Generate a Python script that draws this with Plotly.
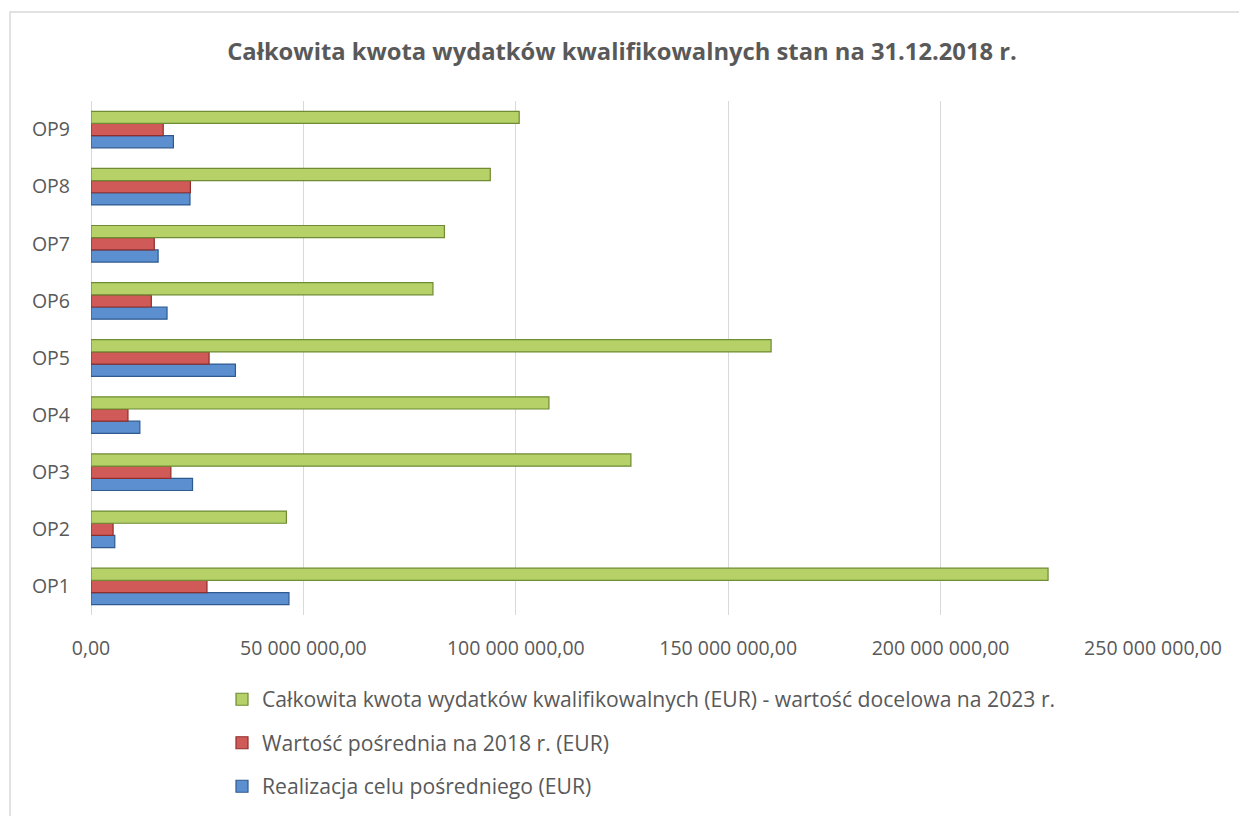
import plotly.graph_objects as go

categories = ["OP1", "OP2", "OP3", "OP4", "OP5", "OP6", "OP7", "OP8", "OP9"]

realizacja = [46.6e6, 5.6e6, 23.9e6, 11.5e6, 34.0e6, 17.9e6, 15.8e6, 23.3e6, 19.4e6]
posrednia = [27.3e6, 5.2e6, 18.8e6, 8.7e6, 27.8e6, 14.2e6, 14.9e6, 23.4e6, 17.0e6]
docelowa = [225.3e6, 46.0e6, 127.1e6, 107.8e6, 160.1e6, 80.5e6, 83.2e6, 94.0e6, 100.8e6]

series_names = [
    "Realizacja celu pośredniego (EUR)",
    "Wartość pośrednia na 2018 r. (EUR)",
    "Całkowita kwota wydatków kwalifikowalnych (EUR) - wartość docelowa na 2023 r.",
]
series_colors = ["#5b8fd0", "#d05a57", "#b5d168"]
series_lines = ["#2f5a8f", "#8e2f2c", "#6f8b33"]
legend_ranks = [3, 2, 1]

tick_vals = [0, 50e6, 100e6, 150e6, 200e6, 250e6]
tick_text = ["0,00", "50 000 000,00", "100 000 000,00", "150 000 000,00",
             "200 000 000,00", "250 000 000,00"]

title_text = "Całkowita kwota wydatków kwalifikowalnych stan na 31.12.2018 r."

FONT = "Open Sans"
TXT = "#595959"

# page body has an 8px margin, so figure coordinates = screen - 8
ML, MT = 83, 93
PLOT_W, PLOT_H = 1062, 514
W, H = 1247, 816

fig = go.Figure()
for name, vals, col, lc, rk in zip(series_names, [realizacja, posrednia, docelowa],
                                   series_colors, series_lines, legend_ranks):
    fig.add_trace(go.Bar(
        y=categories, x=vals, name=name, orientation="h",
        marker=dict(color=col, line=dict(color=lc, width=1.2)),
        legendgroup=name, legendrank=rk,
    ))

fig.update_layout(
    width=W, height=H,
    margin=dict(l=ML, r=W - ML - PLOT_W, t=MT, b=H - MT - PLOT_H),
    paper_bgcolor="white", plot_bgcolor="white",
    barmode="group", bargap=0.36, bargroupgap=0,
    title=dict(text=title_text, x=0.5, xref="paper", y=1 - 44 / H, yanchor="middle",
               font=dict(family=FONT, size=23.75, color=TXT, weight="bold")),
    font=dict(family=FONT, color=TXT),
    showlegend=True,
    legend=dict(traceorder="grouped", orientation="v",
                x=(214 - ML) / PLOT_W, xanchor="left",
                y=(MT + PLOT_H - 671) / PLOT_H, yanchor="top",
                font=dict(family=FONT, size=21.15, color=TXT),
                tracegroupgap=13, itemwidth=30,
                bgcolor="rgba(0,0,0,0)"),
    xaxis=dict(range=[0, 250e6], tickvals=tick_vals, ticktext=tick_text,
               showgrid=True, gridcolor="#d9d9d9", gridwidth=1.3,
               zeroline=True, zerolinecolor="#d9d9d9", zerolinewidth=1.3,
               showline=False, ticks="", ticklabelstandoff=19,
               tickfont=dict(family=FONT, size=19.5, color=TXT)),
    yaxis=dict(showgrid=False, zeroline=False, showline=False, ticks="",
               ticklabelstandoff=20,
               tickfont=dict(family=FONT, size=19.5, color=TXT)),
    shapes=[dict(type="rect", xref="paper", yref="paper",
                 x0=(2 - ML) / PLOT_W, x1=(1280 - ML) / PLOT_W,
                 y0=(MT + PLOT_H - 840) / PLOT_H, y1=(MT + PLOT_H - 4) / PLOT_H,
                 line=dict(color="#d9d9d9", width=1.5), fillcolor="rgba(0,0,0,0)",
                 layer="below")],
)

fig.write_html("out.html")
